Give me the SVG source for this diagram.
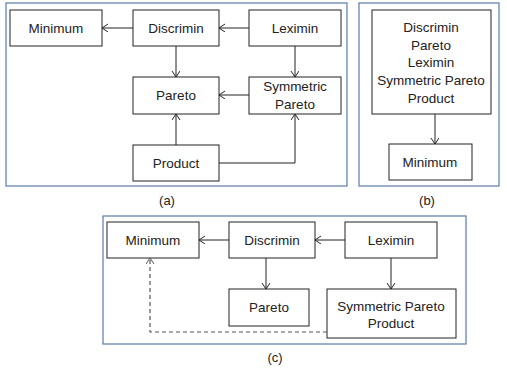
<svg xmlns="http://www.w3.org/2000/svg" width="507" height="370" viewBox="0 0 507 370">
<style>
.panel{fill:#fff;stroke:#5a7aab;stroke-width:1.2}
.box{fill:#fff;stroke:#222;stroke-width:1}
.t{font-family:"Liberation Sans",Arial,sans-serif;font-size:13.5px;fill:#222;text-anchor:middle}
.cap{font-family:"Liberation Sans",Arial,sans-serif;font-size:13px;fill:#222;text-anchor:middle}
.c{fill:none;stroke:#222;stroke-width:1;marker-end:url(#ah)}
.d{fill:none;stroke:#555;stroke-width:1.2;stroke-dasharray:4,3;marker-end:url(#ahd)}
</style>
<defs>
<marker id="ah" markerWidth="10" markerHeight="10" refX="7" refY="4" orient="auto" markerUnits="userSpaceOnUse">
<path d="M1,0 L7,4 L1,8" fill="none" stroke="#222" stroke-width="1"/>
</marker>
<marker id="ahd" markerWidth="10" markerHeight="10" refX="7" refY="4" orient="auto" markerUnits="userSpaceOnUse">
<path d="M1,0 L7,4 L1,8" fill="none" stroke="#555" stroke-width="1"/>
</marker>
</defs>
<rect width="507" height="370" fill="#fff"/>
<g id="panel-a">
<rect class="panel" x="6" y="3" width="341" height="183"/>
<text class="cap" x="167" y="205">(a)</text>
</g>
<g id="panel-b">
<rect class="panel" x="359" y="3" width="140" height="183"/>
<text class="cap" x="427" y="205">(b)</text>
</g>
<g id="panel-c">
<rect class="panel" x="103" y="216" width="363" height="128"/>
<text class="cap" x="275" y="362">(c)</text>
</g>
<g id="a-minimum"><rect class="box" x="10" y="10" width="92" height="36"/><text class="t" x="56" y="33">Minimum</text></g>
<g id="a-discrimin"><rect class="box" x="133" y="10" width="86" height="36"/><text class="t" x="176" y="33">Discrimin</text></g>
<g id="a-leximin"><rect class="box" x="249" y="10" width="92" height="36"/><text class="t" x="295" y="33">Leximin</text></g>
<g id="a-pareto"><rect class="box" x="133" y="77" width="86" height="37"/><text class="t" x="176" y="100">Pareto</text></g>
<g id="a-sympareto"><rect class="box" x="249" y="77" width="92" height="37"/><text class="t" x="295" y="91">Symmetric</text><text class="t" x="295" y="109">Pareto</text></g>
<g id="a-product"><rect class="box" x="133" y="145" width="86" height="36"/><text class="t" x="176" y="168">Product</text></g>
<g id="b-group"><rect class="box" x="372" y="10" width="119" height="104"/>
<text class="t" x="431" y="32">Discrimin</text><text class="t" x="431" y="50">Pareto</text><text class="t" x="431" y="67">Leximin</text><text class="t" x="431" y="85">Symmetric Pareto</text><text class="t" x="431" y="103">Product</text></g>
<g id="b-minimum"><rect class="box" x="389" y="144" width="83" height="36"/><text class="t" x="430" y="167">Minimum</text></g>
<g id="c-minimum"><rect class="box" x="107" y="222" width="92" height="36"/><text class="t" x="153" y="245">Minimum</text></g>
<g id="c-discrimin"><rect class="box" x="229" y="222" width="86" height="36"/><text class="t" x="272" y="245">Discrimin</text></g>
<g id="c-leximin"><rect class="box" x="345" y="222" width="92" height="36"/><text class="t" x="391" y="245">Leximin</text></g>
<g id="c-pareto"><rect class="box" x="229" y="289" width="80" height="37"/><text class="t" x="269" y="312">Pareto</text></g>
<g id="c-spp"><rect class="box" x="327" y="289" width="129" height="49"/><text class="t" x="391" y="311">Symmetric Pareto</text><text class="t" x="391" y="328">Product</text></g>
<g id="connectors">
<path class="c" d="M133,28 H102"/>
<path class="c" d="M249,28 H219"/>
<path class="c" d="M176,46 V77"/>
<path class="c" d="M295,46 V77"/>
<path class="c" d="M249,95 H219"/>
<path class="c" d="M176,145 V114"/>
<path class="c" d="M219,163 H295 V114"/>
<path class="c" d="M435,114 V144"/>
<path class="c" d="M229,240 H199"/>
<path class="c" d="M345,240 H315"/>
<path class="c" d="M266,258 V289"/>
<path class="c" d="M391,258 V289"/>
<path class="d" d="M327,332 H150 V258"/>
</g>
</svg>
